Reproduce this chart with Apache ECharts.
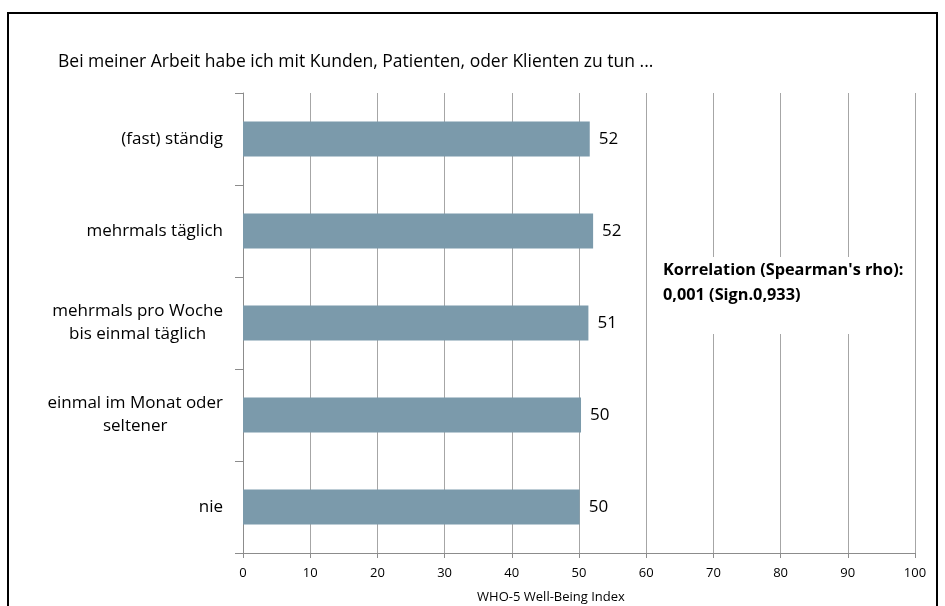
<!DOCTYPE html>
<html>
<head>
<meta charset="utf-8">
<script src="https://cdn.jsdelivr.net/npm/echarts@6/dist/echarts.min.js"></script>
<style>
  html, body { margin: 0; padding: 0; background: #fff; }
  #chart { width: 945px; height: 606px; }
</style>
</head>
<body>
<div id="chart"></div>
<script>
// Frequency of contact with customers / patients / clients
const categories = [
  '(fast) ständig',
  'mehrmals täglich',
  'mehrmals pro Woche\nbis einmal täglich',
  'einmal im Monat oder\nseltener',
  'nie'
];
// Mean WHO-5 well-being score per group
const scores = [51.6, 52.1, 51.4, 50.3, 50.1];
// Value axis ticks
const xTicks = [0, 10, 20, 30, 40, 50, 60, 70, 80, 90, 100];

const questionText = 'Bei meiner Arbeit habe ich mit Kunden, Patienten, oder Klienten zu tun ...';
const noteText = "Korrelation (Spearman's rho):\n0,001 (Sign.0,933)";
const axisTitle = 'WHO-5 Well-Being Index';

const FONT = 'Open Sans';

const chart = echarts.init(document.getElementById('chart'), null, { renderer: 'canvas' });

chart.setOption({
  animation: false,
  backgroundColor: '#ffffff',
  textStyle: { fontFamily: FONT },
  title: [
    {
      text: questionText,
      left: 58,
      top: 52,
      padding: 0,
      textStyle: { fontFamily: FONT, fontSize: 17.5, fontWeight: 'normal', color: '#000', lineHeight: 20 }
    },
    {
      text: noteText,
      left: 655,
      top: 257,
      backgroundColor: '#ffffff',
      padding: [1, 8, 26, 8],
      textStyle: { fontFamily: FONT, fontSize: 16.3, fontWeight: 'bold', color: '#000', lineHeight: 25 }
    }
  ],
  graphic: [
    {
      type: 'rect',
      z: 100,
      shape: { x: 8, y: 13, width: 929, height: 640 },
      style: { fill: 'none', stroke: '#000', lineWidth: 2 }
    }
  ],
  grid: {
    left: 243, right: 30, top: 93, bottom: 53,
    containLabel: false,
    outerBoundsMode: 'none'
  },
  xAxis: {
    type: 'value',
    min: xTicks[0],
    max: xTicks[xTicks.length - 1],
    interval: xTicks[1] - xTicks[0],
    name: axisTitle,
    nameLocation: 'middle',
    nameGap: 38,
    nameTextStyle: { fontFamily: FONT, fontSize: 13, color: '#000', padding: [0, 56, 0, 0] },
    axisLine: { show: true, lineStyle: { color: '#8c8c8c', width: 1 } },
    axisTick: { show: true, length: 5, lineStyle: { color: '#8c8c8c' } },
    axisLabel: { fontFamily: FONT, fontSize: 13, color: '#000', margin: 14 },
    splitLine: { show: true, lineStyle: { color: '#a6a6a6', width: 1 } }
  },
  yAxis: {
    type: 'category',
    data: categories,
    inverse: true,
    axisLine: { show: true, lineStyle: { color: '#8c8c8c', width: 1 } },
    axisTick: { show: true, length: 8, lineStyle: { color: '#8c8c8c' } },
    axisLabel: {
      margin: 20,
      formatter: function (v) {
        return v.split('\n').map(function (line) { return '{c|' + line + '}'; }).join('\n');
      },
      rich: {
        c: { align: 'center', fontFamily: FONT, fontSize: 17, color: '#000', lineHeight: 23 }
      }
    },
    splitLine: { show: false }
  },
  series: [
    {
      type: 'bar',
      data: scores,
      barWidth: '38%',
      itemStyle: { color: '#7b9aab' },
      label: {
        show: true,
        position: 'right',
        distance: 9,
        fontFamily: FONT,
        fontSize: 17,
        color: '#000',
        formatter: function (p) { return String(Math.round(p.value)); }
      }
    }
  ]
});
</script>
</body>
</html>
